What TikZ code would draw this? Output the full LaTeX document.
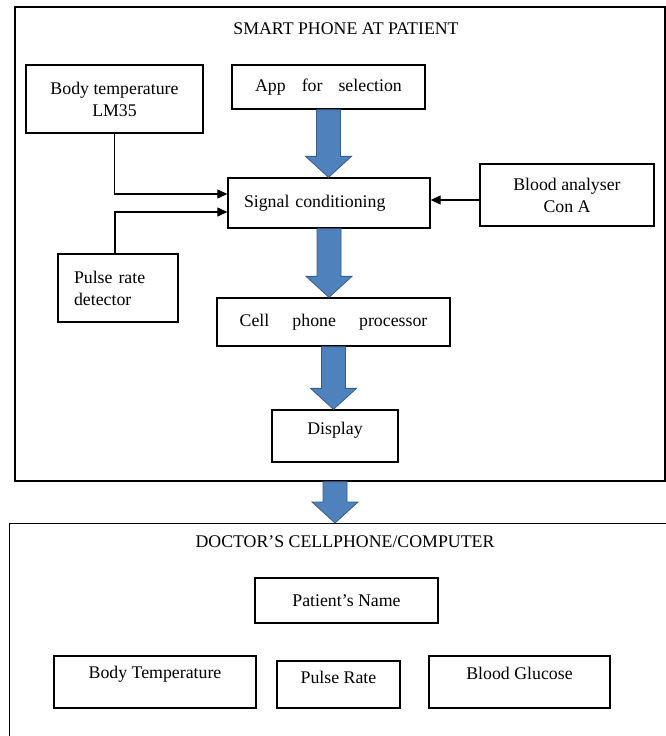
\documentclass[tikz,border=0pt]{standalone}
\usepackage{fontspec}
\setmainfont{Liberation Serif}
\usepackage{tikz}
\usetikzlibrary{arrows.meta, calc}
\definecolor{arrowblue}{RGB}{79,129,189}
\definecolor{arrowedge}{RGB}{56,93,138}

% block arrow from the first point straight down to the second
\newcommand{\fatarrow}[2]{%
  \path[fat] let \p1=#1, \p2=#2 in
    (\x1-12pt,\y1) -- (\x1+12pt,\y1) -- (\x1+12pt,\y2+21pt) -- (\x1+23pt,\y2+21pt)
    -- (\x1,\y2) -- (\x1-23pt,\y2+21pt) -- (\x1-12pt,\y2+21pt) -- cycle;}

\begin{document}
\begin{tikzpicture}[
  x=1pt, y=-1pt,
  font=\fontsize{17.8}{22}\selectfont,
  frame/.style={draw, line width=1.3pt, inner sep=0pt},
  box/.style={draw, line width=1.3pt, align=center, inner sep=0pt},
  raised/.style={text depth=#1},
  wire/.style={-{Triangle[length=10pt,width=9pt]}, line width=1.1pt},
  fat/.style={fill=arrowblue, draw=arrowedge, line width=0.8pt},
]
\useasboundingbox (0,0) rectangle (666,736);

% smart phone side
\node[frame, minimum width=650pt, minimum height=474pt] (phone) at (340,244) {};
\node (ptitle) at (346,29) {SMART PHONE AT PATIENT};
\node[box, minimum width=177pt, minimum height=68pt] (bt) at (114.5,99) {Body temperature\\LM35};
\node[box, minimum width=193pt, minimum height=44pt] (app) at (328.5,87) {App\hspace{0.9em}for\hspace{0.9em}selection};
\node[box, text width=170pt, inner xsep=16pt, align=left, minimum height=50pt] (sig) at (329,203) {Signal conditioning};
\node[box, minimum width=174pt, minimum height=62pt] (blood) at (567,195) {Blood analyser\\Con A};
\node[box, text width=88pt, inner xsep=16pt, align=left, minimum height=68pt] (pulse) at (118,288) {Pulse rate\\detector};
\node[box, minimum width=233pt, minimum height=48pt] (cpu) at (333.5,322) {Cell\hspace{1.3em}phone\hspace{1.3em}processor};
\node[box, raised=16pt, minimum width=126pt, minimum height=52pt] (disp) at (335,436) {Display};

% doctor side
\node[frame, minimum width=671pt, minimum height=240pt, anchor=north west] (doctor) at (9,523) {};
\node (dtitle) at (345,542) {DOCTOR'S CELLPHONE/COMPUTER};
\node[box, minimum width=183pt, minimum height=45pt] (pname) at (346.5,600.5) {Patient's Name};
\node[box, raised=20pt, minimum width=202pt, minimum height=52pt] (btemp) at (155,682) {Body Temperature};
\node[box, raised=15pt, minimum width=123pt, minimum height=47pt] (prate) at (338.5,684.5) {Pulse Rate};
\node[box, raised=17pt, minimum width=181pt, minimum height=52pt] (bgluc) at (519.5,682) {Blood Glucose};

\draw[wire] (bt.south) |- ([yshift=9pt]sig.west);
\draw[wire] ([xshift=-3pt]pulse.north) |- ([yshift=-9pt]sig.west);
\draw[wire] ([yshift=-5pt]blood.west) -- ([yshift=-5pt]blood.west -| sig.east);

\fatarrow{(app.south)}{(sig.north)}
\fatarrow{(sig.south)}{(cpu.north)}
\fatarrow{(cpu.south)}{(disp.north)}
\fatarrow{(disp.south |- phone.south)}{(doctor.north)}
\end{tikzpicture}
\end{document}
